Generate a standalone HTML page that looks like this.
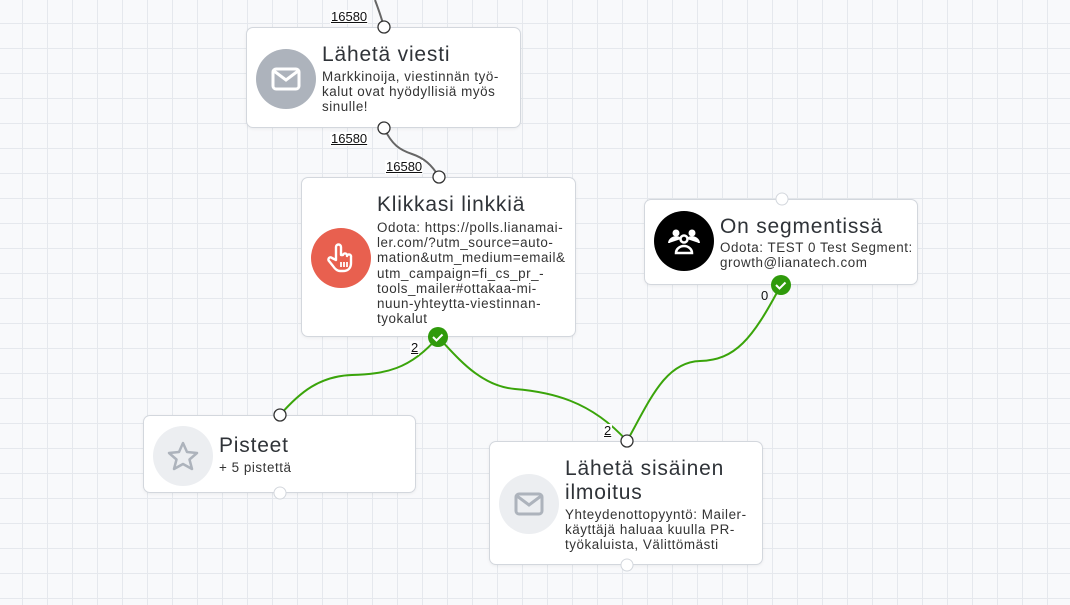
<!DOCTYPE html>
<html><head><meta charset="utf-8"><style>
*{margin:0;padding:0;box-sizing:border-box}
body{width:1070px;height:605px;overflow:hidden;position:relative;font-family:"Liberation Sans",sans-serif;
background-color:#f8f9fb;
background-image:linear-gradient(to right,#e5e8ed 1px,transparent 1px),linear-gradient(to bottom,#e5e8ed 1px,transparent 1px);
background-size:25px 25px;background-position:22px 23px;}
.node{position:absolute;background:#fff;border:1px solid #d3d7dd;border-radius:7px;box-shadow:0 1px 3px rgba(0,0,0,.06)}
.ic{position:absolute;width:60px;height:60px;border-radius:50%;display:flex;align-items:center;justify-content:center}
.t{position:absolute;font-size:21px;color:#2f3338;letter-spacing:.8px;line-height:24px;white-space:nowrap}
.b{position:absolute;font-size:13.4px;color:#333;line-height:15.2px;letter-spacing:.55px;white-space:nowrap}
svg.lines{position:absolute;left:0;top:0}
.lbl{position:absolute;font-size:13px;color:#111;text-decoration:underline;background:#fff;line-height:14px;padding:0 1px}
</style></head><body>
<svg class="lines" width="1070" height="605">
<path d="M375,0 C378,8 381,16 384,27" stroke="#666" stroke-width="2" fill="none"/>
<path d="M384,128 C392,145 400,150 412,154 S432,165 439,177" stroke="#666" stroke-width="2" fill="none"/>
</svg>

<div class="node" style="left:246px;top:27px;width:275px;height:101px">
 <div class="ic" style="left:9px;top:21px;background:#adb3bc">
  <svg width="30" height="24" viewBox="0 0 30 24"><rect x="2" y="2" width="26" height="20" rx="3" fill="none" stroke="#fff" stroke-width="3"/><path d="M3,4 L15,13 L27,4" fill="none" stroke="#fff" stroke-width="3"/></svg></div>
 <div class="t" style="left:75px;top:15px">Lähetä viesti</div>
 <div class="b" style="left:75px;top:41px">Markkinoija, viestinnän työ-<br>kalut ovat hyödyllisiä myös<br>sinulle!</div>
</div>

<div class="node" style="left:301px;top:177px;width:275px;height:160px">
 <div class="ic" style="left:9px;top:50px;background:#e8604f">
  <svg width="30" height="32" viewBox="0 0 30 32"><path d="M10,18 V5 a2.5,2.5 0 0 1 5,0 V13 h2 a2,2 0 0 1 4,1 a2,2 0 0 1 4,1 v6 c0,5 -3,8 -8,8 h-3 c-3,0 -5,-2 -7,-5 l-4,-5 a2,2 0 0 1 3,-3 z" fill="none" stroke="#fff" stroke-width="2.4" stroke-linejoin="round"/><path d="M15,20v5M18,20v5M21,20v5" stroke="#fff" stroke-width="1.8"/></svg></div>
 <div class="t" style="left:75px;top:15px">Klikkasi linkkiä</div>
 <div class="b" style="left:75px;top:42px">Odota: https://polls.lianamai-<br>ler.com/?utm_source=auto-<br>mation&amp;utm_medium=email&amp;<br>utm_campaign=fi_cs_pr_-<br>tools_mailer#ottakaa-mi-<br>nuun-yhteytta-viestinnan-<br>tyokalut</div>
</div>

<div class="node" style="left:644px;top:199px;width:274px;height:86px">
 <div class="ic" style="left:9px;top:11px;background:#000">
  <svg width="34" height="28" viewBox="0 0 34 28"><circle cx="9" cy="6" r="3.5" fill="#fff"/><circle cx="25" cy="6" r="3.5" fill="#fff"/><path d="M2,16 a7,6 0 0 1 12,-4 M32,16 a7,6 0 0 0 -12,-4" fill="#fff" stroke="#fff" stroke-width="2"/><circle cx="17" cy="12" r="3.5" fill="none" stroke="#fff" stroke-width="2.5"/><path d="M9,26 a8,7 0 0 1 16,0 z" fill="none" stroke="#fff" stroke-width="2.5"/></svg></div>
 <div class="t" style="left:75px;top:15px">On segmentissä</div>
 <div class="b" style="left:75px;top:40px">Odota: TEST 0 Test Segment:<br>growth@lianatech.com</div>
</div>

<div class="node" style="left:143px;top:415px;width:273px;height:78px">
 <div class="ic" style="left:9px;top:10px;background:#eceef1">
  <svg width="32" height="30" viewBox="0 0 32 30"><path d="M16,2 L20,11 L30,12 L22.5,18.5 L25,28 L16,23 L7,28 L9.5,18.5 L2,12 L12,11 Z" fill="none" stroke="#adb3bc" stroke-width="2.5" stroke-linejoin="round"/></svg></div>
 <div class="t" style="left:75px;top:18px">Pisteet</div>
 <div class="b" style="left:75px;top:44px">+ 5 pistettä</div>
</div>

<div class="node" style="left:489px;top:441px;width:274px;height:124px">
 <div class="ic" style="left:9px;top:32px;background:#eceef1">
  <svg width="30" height="24" viewBox="0 0 30 24"><rect x="2" y="2" width="26" height="20" rx="3" fill="none" stroke="#adb3bc" stroke-width="3"/><path d="M3,4 L15,13 L27,4" fill="none" stroke="#adb3bc" stroke-width="3"/></svg></div>
 <div class="t" style="left:75px;top:15px">Lähetä sisäinen<br>ilmoitus</div>
 <div class="b" style="left:75px;top:65px">Yhteydenottopyyntö: Mailer-<br>käyttäjä haluaa kuulla PR-<br>työkaluista, Välittömästi</div>
</div>

<svg class="lines" width="1070" height="605">
<g stroke="#3aa40a" stroke-width="2" fill="none">
<path d="M280,415 C300,392 320,376 352,375 S410,370 438,337"/>
<path d="M438,337 C458,358 480,386 515,389 S590,400 627,441"/>
<path d="M627,441 C650,400 665,362 700,361 S752,340 781,285"/>
</g>
<g fill="#fff" stroke="#333" stroke-width="1.3">
<circle cx="384" cy="27" r="6"/><circle cx="384" cy="128" r="6"/>
<circle cx="439" cy="177" r="6"/><circle cx="280" cy="415" r="6"/><circle cx="627" cy="441" r="6"/>
</g>
<g fill="#fff" stroke="#d3d7dd" stroke-width="1">
<circle cx="782" cy="199" r="6"/><circle cx="280" cy="493" r="6"/><circle cx="627" cy="565" r="6"/>
</g>
<g><circle cx="438" cy="337" r="10" fill="#2f9a0b"/><path d="M433,337 l3.5,3.5 l6,-6" stroke="#fff" stroke-width="2" fill="none"/>
<circle cx="781" cy="285" r="10" fill="#2f9a0b"/><path d="M776,285 l3.5,3.5 l6,-6" stroke="#fff" stroke-width="2" fill="none"/></g>
</svg>

<div class="lbl" style="left:330px;top:10px">16580</div>
<div class="lbl" style="left:330px;top:132px">16580</div>
<div class="lbl" style="left:385px;top:160px">16580</div>
<div class="lbl" style="left:410px;top:341px">2</div>
<div class="lbl" style="left:603px;top:424px">2</div>
<div class="lbl" style="left:760px;top:289px;text-decoration:none;background:transparent">0</div>
</body></html>
